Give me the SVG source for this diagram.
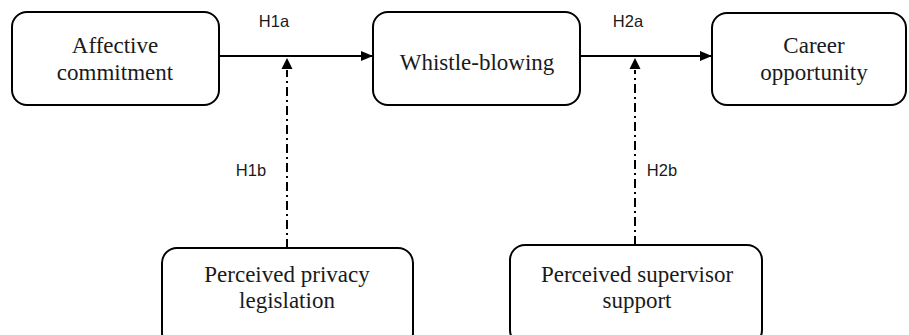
<svg xmlns="http://www.w3.org/2000/svg" width="909" height="335" viewBox="0 0 909 335">
  <style>
    .box { fill: #ffffff; stroke: #000000; stroke-width: 2; }
    .node-text { font-family: "Liberation Serif", "Times New Roman", serif; font-size: 23px; fill: #1a1a1a; text-anchor: middle; }
    .hyp { font-family: "Liberation Sans", Arial, sans-serif; font-size: 16.5px; fill: #1a1a1a; text-anchor: middle; }
    .path { fill: none; stroke: #000000; stroke-width: 2; }
    .mod { fill: none; stroke: #000000; stroke-width: 2; stroke-dasharray: 9 4 2 4; }
  </style>
  <defs>
    <marker id="arrow" viewBox="0 0 12 10" refX="12" refY="5" markerWidth="12" markerHeight="10" markerUnits="userSpaceOnUse" orient="auto">
      <path d="M0,0 L12,5 L0,10 Z" fill="#000000"/>
    </marker>
  </defs>
  <rect width="909" height="335" fill="#ffffff"/>

  <g id="connectors">
    <line class="path" x1="219" y1="56" x2="373" y2="56" marker-end="url(#arrow)"/>
    <line class="path" x1="580" y1="56" x2="712" y2="56" marker-end="url(#arrow)"/>
    <line class="mod" x1="287" y1="248" x2="287" y2="70"/>
    <polygon points="287,58 281.5,69 292.5,69" fill="#000000"/>
    <line class="mod" x1="635" y1="245" x2="635" y2="70"/>
    <polygon points="635,58 629.5,69 640.5,69" fill="#000000"/>
    <text class="hyp" x="274" y="27">H1a</text>
    <text class="hyp" x="628" y="27">H2a</text>
    <text class="hyp" x="251" y="176">H1b</text>
    <text class="hyp" x="662" y="176">H2b</text>
  </g>

  <g id="affective-commitment">
    <rect class="box" x="12" y="12" width="207" height="93" rx="15" ry="15"/>
    <text class="node-text" x="115" y="53">Affective</text>
    <text class="node-text" x="115" y="80">commitment</text>
  </g>

  <g id="whistle-blowing">
    <rect class="box" x="373" y="12" width="207" height="93" rx="15" ry="15"/>
    <text class="node-text" x="477" y="70">Whistle-blowing</text>
  </g>

  <g id="career-opportunity">
    <rect class="box" x="712" y="13" width="194" height="92" rx="15" ry="15"/>
    <text class="node-text" x="814" y="53">Career</text>
    <text class="node-text" x="814" y="80">opportunity</text>
  </g>

  <g id="privacy-legislation">
    <rect class="box" x="162" y="248" width="251" height="100" rx="15" ry="15"/>
    <text class="node-text" x="287" y="282">Perceived privacy</text>
    <text class="node-text" x="287" y="308">legislation</text>
  </g>

  <g id="supervisor-support">
    <rect class="box" x="510" y="245" width="252" height="100" rx="15" ry="15"/>
    <text class="node-text" x="637" y="282">Perceived supervisor</text>
    <text class="node-text" x="637" y="308">support</text>
  </g>
</svg>
